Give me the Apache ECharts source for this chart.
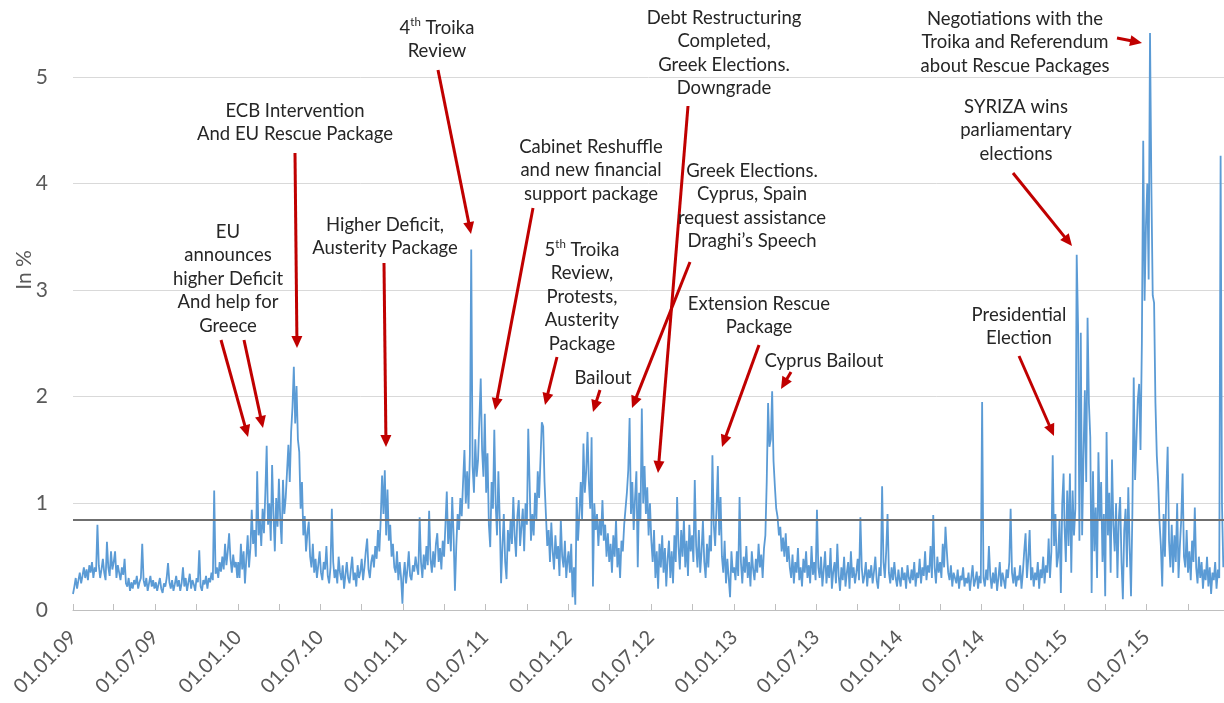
<!DOCTYPE html>
<html><head><meta charset="utf-8">
<script src="https://cdn.jsdelivr.net/npm/echarts@6/dist/echarts.min.js"></script>
<style>html,body{margin:0;padding:0;background:#fff}#c{width:1224px;height:703px}</style>
</head><body><div id="c"></div>
<script>
// ---- data (values in %, one reading every 3 days from 1 January of each year) ----
const xTickLabels = ['01.01.09','01.07.09','01.01.10','01.07.10','01.01.11','01.07.11','01.01.12','01.07.12','01.01.13','01.07.13','01.01.14','01.07.14','01.01.15','01.07.15'];
const yTickValues = [0,1,2,3,4,5];
const meanValue = 0.85;
const stepDays = 3;
const years = [2009,2010,2011,2012,2013,2014,2015];

const v2009 = [
0.15,0.22,0.30,0.20,0.28,0.35,0.25,0.32,0.40,0.30,
0.38,0.28,0.42,0.35,0.45,0.30,0.40,0.36,0.80,0.42,
0.30,0.38,0.48,0.35,0.28,0.64,0.40,0.32,0.55,0.38,
0.45,0.55,0.30,0.42,0.35,0.28,0.40,0.33,0.48,0.25,
0.22,0.30,0.18,0.26,0.20,0.28,0.24,0.32,0.20,0.26,
0.30,0.62,0.28,0.22,0.30,0.18,0.25,0.32,0.22,0.28,
0.20,0.26,0.18,0.24,0.30,0.20,0.16,0.25,0.22,0.30,
0.44,0.26,0.20,0.28,0.18,0.24,0.32,0.22,0.28,0.18,
0.25,0.40,0.22,0.30,0.18,0.26,0.34,0.20,0.28,0.24,
0.18,0.30,0.26,0.56,0.22,0.18,0.28,0.24,0.32,0.20,
0.30,0.26,0.35,0.28,1.12,0.34,0.40,0.30,0.45,0.36,
0.50,0.38,0.62,0.42,0.55,0.72,0.48,0.35,0.52,0.40,
0.45,0.30];
const v2010 = [
0.45,0.30,0.62,0.38,0.55,0.25,0.48,0.70,0.40,0.58,
0.94,0.62,0.75,0.50,1.30,0.70,0.85,0.60,0.95,0.72,
1.10,1.54,0.80,1.00,0.65,1.36,0.90,0.55,1.05,0.78,
1.23,0.85,0.62,1.22,0.90,1.05,1.30,1.55,1.20,1.67,
1.90,2.28,1.75,2.10,1.60,1.48,0.95,1.20,0.70,0.88,
0.55,0.72,0.83,0.50,0.40,0.62,0.35,0.48,0.30,0.42,
0.55,0.35,0.28,0.45,0.38,0.60,0.32,0.25,0.40,0.95,
0.45,0.30,0.38,0.25,0.50,0.35,0.28,0.42,0.20,0.33,
0.45,0.30,0.25,0.38,0.50,0.28,0.35,0.22,0.42,0.30,
0.36,0.48,0.28,0.40,0.55,0.67,0.38,0.30,0.45,0.52,
0.40,0.60,0.48,0.75,0.55,0.85,1.26,0.90,1.31,0.70,
1.13,0.65,0.80,0.50,0.62,0.40,0.35,0.55,0.28,0.45,
0.30,0.06];
const v2011 = [
0.30,0.45,0.25,0.38,0.55,0.32,0.28,0.42,0.36,0.50,
0.40,0.33,0.87,0.45,0.30,0.52,0.38,0.60,0.42,0.93,
0.48,0.35,0.55,0.40,0.62,0.72,0.45,0.58,0.38,0.65,
0.50,0.80,1.11,0.62,0.85,0.55,1.06,0.70,0.18,0.60,
0.90,0.75,1.05,0.88,1.20,1.50,1.00,1.30,0.95,1.45,
3.38,1.35,1.10,1.60,1.25,1.40,1.78,2.17,1.50,1.25,
1.84,1.10,1.47,0.80,0.59,1.20,0.95,1.69,1.00,0.70,
1.30,0.85,0.25,0.60,0.90,0.45,0.29,0.75,0.55,0.85,
0.62,1.06,0.70,0.50,0.88,1.03,0.60,0.78,0.95,0.55,
1.00,0.80,1.70,1.20,0.65,0.90,0.70,1.10,0.85,1.30,
1.05,1.40,1.76,1.72,1.20,0.90,0.60,0.75,0.45,0.82,
0.55,0.38,0.70,0.48,0.60,0.32,0.85,0.50,0.40,0.65,
0.30,0.48];
const v2012 = [
0.55,0.35,0.62,0.12,0.40,0.05,1.06,0.65,0.90,1.20,
0.85,1.56,1.10,1.30,1.67,1.20,0.95,1.62,0.22,1.00,
0.75,0.90,0.60,0.85,0.70,1.03,0.65,0.80,0.50,0.72,
0.45,0.62,0.35,0.70,0.50,0.85,0.40,0.58,0.30,0.65,
0.55,0.80,0.95,1.10,1.31,1.80,0.90,1.20,0.75,1.05,
1.30,0.40,1.10,0.85,1.89,1.00,1.35,0.90,1.15,0.70,
1.00,0.65,0.45,0.75,0.30,0.55,0.20,0.62,0.40,0.70,
0.35,0.58,0.22,0.48,0.65,0.30,0.55,0.25,0.70,0.45,
1.06,0.60,0.38,0.75,0.50,0.85,0.40,0.65,0.32,0.80,
0.55,0.70,0.45,1.22,0.60,0.40,0.75,0.35,0.55,0.84,
0.45,0.30,0.62,0.40,0.70,0.55,1.45,0.80,0.60,0.95,
1.35,0.70,1.06,0.50,0.35,0.65,0.25,0.48,0.30,0.12,
0.55,0.35];
const v2013 = [
0.40,0.28,0.55,0.32,1.06,0.45,0.25,0.50,0.35,0.60,
0.30,0.45,0.22,0.55,0.38,0.28,0.48,0.35,0.62,0.40,
0.52,0.30,0.58,0.70,1.20,1.94,1.53,1.60,2.05,1.40,
1.16,0.95,0.87,0.70,0.78,0.55,0.68,0.50,0.72,0.45,
0.60,0.40,0.30,0.52,0.25,0.45,0.35,0.58,0.28,0.40,
0.22,0.48,0.35,0.55,0.30,0.42,0.25,0.60,0.33,0.45,
0.28,0.94,0.40,0.30,0.50,0.22,0.38,0.55,0.25,0.42,
0.30,0.58,0.20,0.36,0.45,0.25,0.62,0.32,0.18,0.40,
0.28,0.50,0.22,0.35,0.45,0.20,0.55,0.30,0.40,0.25,
0.35,0.48,0.28,0.87,0.40,0.25,0.32,0.45,0.22,0.38,
0.30,0.42,0.25,0.36,0.50,0.28,0.20,0.40,0.32,1.16,
0.45,0.30,0.55,0.90,0.35,0.25,0.40,0.28,0.45,0.30,
0.22,0.38];
const v2014 = [
0.30,0.22,0.40,0.28,0.35,0.20,0.42,0.30,0.25,0.38,
0.28,0.45,0.22,0.35,0.30,0.48,0.25,0.40,0.32,0.55,
0.28,0.42,0.35,0.60,0.30,0.89,0.40,0.25,0.50,0.35,
0.45,0.30,0.62,0.40,0.78,0.55,0.35,0.28,0.42,0.22,
0.35,0.30,0.25,0.38,0.20,0.32,0.28,0.40,0.22,0.30,
0.25,0.35,0.18,0.30,0.42,0.22,0.28,0.36,0.20,0.32,
0.25,1.95,0.30,0.22,0.38,0.28,0.60,0.32,0.20,0.35,
0.25,0.40,0.18,0.30,0.45,0.22,0.35,0.28,0.20,0.38,
0.30,0.45,0.95,0.35,0.25,0.40,0.22,0.32,0.28,0.42,
0.20,0.35,0.55,0.72,0.30,0.48,0.75,0.28,0.40,0.22,
0.35,0.28,0.45,0.20,0.38,0.30,0.50,0.25,0.42,0.35,
0.67,0.30,0.55,1.45,0.60,0.90,0.40,0.50,0.85,0.16,
1.00,1.28];
const v2015 = [
0.80,0.45,1.12,0.60,1.28,0.35,1.12,0.70,0.95,3.33,
2.67,0.65,2.60,0.70,1.45,2.06,1.20,2.74,1.94,1.62,
0.16,1.30,0.55,0.96,0.30,1.48,0.85,1.20,0.45,0.90,
0.13,1.67,0.70,1.10,0.35,1.41,0.80,0.55,1.00,0.30,
0.85,1.06,0.45,0.10,0.75,0.95,0.40,1.15,0.60,0.13,
0.90,2.18,1.22,1.60,1.97,2.12,1.50,2.50,4.40,2.90,
3.60,4.00,3.10,5.41,3.97,2.95,2.88,1.94,1.45,1.20,
0.83,0.60,0.22,0.90,0.50,1.10,1.53,0.65,0.40,0.80,
0.35,0.70,0.45,1.00,0.30,0.60,0.85,1.28,0.50,0.40,
0.75,0.35,0.55,0.28,0.65,0.45,0.96,0.40,0.25,0.50,
0.30,0.45,0.20,0.38,0.28,0.50,0.22,0.40,0.15,0.35,
0.28,0.45,0.20,0.38,0.30,4.26,1.00,0.40];
const yearValues = [v2009,v2010,v2011,v2012,v2013,v2014,v2015];

// ---- annotations (layout, pixel space) ----
const annotations = [
 {lines:['EU','announces','higher Deficit','And help for','Greece'], cx:228, top:220, arrows:[[221,340,248,437],[244,340,263,428]]},
 {lines:['ECB Intervention','And EU Rescue Package'], cx:295, top:99, arrows:[[295,153,297,348]]},
 {lines:['Higher Deficit,','Austerity Package'], cx:385, top:213, arrows:[[384,263,386,447]]},
 {lines:['4{s|th} Troika','Review'], cx:437, top:16, arrows:[[438,70,471,234]]},
 {lines:['Cabinet Reshuffle','and new financial','support package'], cx:591, top:135, arrows:[[533,208,495,410]]},
 {lines:['5{s|th} Troika','Review,','Protests,','Austerity','Package'], cx:582, top:238, arrows:[[557,357,545,405]]},
 {lines:['Bailout'], cx:603, top:366, arrows:[[600,390,593,412]]},
 {lines:['Debt Restructuring','Completed,','Greek Elections.','Downgrade'], cx:724, top:6, arrows:[[688,106,658,473]]},
 {lines:['Greek Elections.','Cyprus, Spain','request assistance','Draghi\u2019s Speech'], cx:752, top:159, arrows:[[690,262,632,408]]},
 {lines:['Extension Rescue','Package'], cx:759, top:292, arrows:[[759,345,722,447]]},
 {lines:['Cyprus Bailout'], cx:824, top:349, arrows:[[791,372,781,389]]},
 {lines:['Negotiations with the','Troika and Referendum','about Rescue Packages'], cx:1015, top:7, arrows:[[1117,38,1142,43]]},
 {lines:['SYRIZA wins','parliamentary','elections'], cx:1016, top:95, arrows:[[1013,173,1072,246]]},
 {lines:['Presidential','Election'], cx:1019, top:303, arrows:[[1019,356,1054,436]]}
];

// ---- build ----
const seriesData = [];
years.forEach((y, k) => {
  yearValues[k].forEach((v, i) => {
    seriesData.push([new Date(y, 0, 1 + i * stepDays).getTime(), v]);
  });
});
function parseLabel(s){ const p = s.split('.'); return new Date(2000 + (+p[2]), (+p[1]) - 1, +p[0]).getTime(); }
const labelValues = xTickLabels.map(parseLabel);
const tickValues = [];
labelValues.forEach(t => { const d = new Date(t); tickValues.push(t); tickValues.push(new Date(d.getFullYear(), d.getMonth() + 3, 1).getTime()); });
const labelMap = {}; labelValues.forEach((t,i)=>{ labelMap[t] = xTickLabels[i]; });

const FONT = 'Lato, "Open Sans", sans-serif';
const AFS = 18.5, ALH = 23.5, RED = '#C00000';
const graphics = [];
annotations.forEach(a => {
  graphics.push({type:'text', silent:true, z:100, style:{
    text: a.lines.join('\n'), x:a.cx, y:a.top, align:'center', verticalAlign:'top',
    fill:'#262626', fontFamily: FONT, fontSize: AFS, lineHeight: ALH,
    rich:{ s:{fontSize:11.5, lineHeight:12, verticalAlign:'top', fill:'#262626', fontFamily: FONT} }
  }});
  a.arrows.forEach(ar => {
    const [x1,y1,x2,y2] = ar; const dx = x2-x1, dy = y2-y1; const L = Math.hypot(dx,dy);
    const ux = dx/L, uy = dy/L, hl = 12, hw = 5.5;
    const bx = x2 - ux*hl, by = y2 - uy*hl;
    graphics.push({type:'line', silent:true, z:100, shape:{x1:x1,y1:y1,x2:x2-ux*6,y2:y2-uy*6}, style:{stroke:RED, lineWidth:3}});
    graphics.push({type:'polygon', silent:true, z:100, shape:{points:[[x2,y2],[bx-uy*hw,by+ux*hw],[bx+uy*hw,by-ux*hw]]}, style:{fill:RED}});
  });
});
graphics.push({type:'text', silent:true, z:100, x:24, y:270, rotation:Math.PI/2, style:{text:'In %', x:0, y:0, align:'center', verticalAlign:'middle', fill:'#595959', fontFamily:FONT, fontSize:21}});

const chart = echarts.init(document.getElementById('c'), null, {renderer:'canvas'});
chart.setOption({
  animation:false,
  backgroundColor:'#ffffff',
  grid:{left:73, right:0, top:0, bottom:93, containLabel:false},
  xAxis:{type:'value', min:new Date(2009,0,1).getTime(), max:new Date(2015,11,19,12).getTime(),
    axisLine:{show:true, lineStyle:{color:'#BFBFBF', width:1}},
    axisTick:{show:true, inside:true, length:6, customValues:tickValues, lineStyle:{color:'#BFBFBF'}},
    axisLabel:{customValues:labelValues, rotate:45, margin:24, fontSize:20, color:'#595959', fontFamily:FONT,
      formatter:(v)=> labelMap[v] || ''},
    splitLine:{show:false}
  },
  yAxis:{type:'value', min:0, max:5.72, interval:1,
    axisLine:{show:false}, axisTick:{show:false},
    axisLabel:{customValues:yTickValues, fontSize:21, color:'#595959', margin:25, fontFamily:FONT},
    splitLine:{show:true, showMaxLine:false, lineStyle:{color:'#D9D9D9', width:1}}
  },
  series:[{
    type:'line', data:seriesData, showSymbol:false, symbol:'none',
    lineStyle:{color:'#5B9BD5', width:1.8}, itemStyle:{color:'#5B9BD5'},
    markLine:{silent:true, symbol:['none','none'], label:{show:false},
      lineStyle:{color:'#6F6F6F', width:2, type:'solid'}, emphasis:{disabled:true}, data:[{yAxis:meanValue}]}
  }],
  graphic: graphics
});
</script></body></html>
